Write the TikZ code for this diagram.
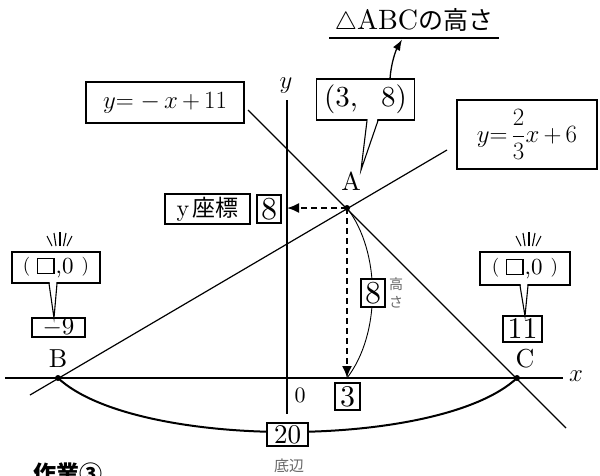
\documentclass[tikz,border=0pt]{standalone}
\usepackage{fontspec}
\usepackage{amsmath}
\setmainfont{lmroman10-regular}[Extension=.otf, BoldFont=lmroman10-bold, ItalicFont=lmroman10-italic]
\newfontfamily\jp{Noto Sans CJK JP}
\usetikzlibrary{arrows.meta,calc}
\newcommand\blankpar{{\fontsize{19}{19}\selectfont\raisebox{1.5pt}{(}}\hspace{0.3em}{\setlength\fboxsep{0pt}\setlength\fboxrule{1.2pt}\fbox{\rule{0pt}{14pt}\hspace{15pt}}}\hspace{1pt},0\hspace{0.35em}{\fontsize{19}{19}\selectfont\raisebox{1.5pt}{)}}}
\tikzset{
  fs/.style={font=\fontsize{#1}{#1}\selectfont},
  bx/.style={draw, line width=1.3pt, inner sep=0pt, fill=white},
  ln/.style={line width=1.2pt},
  axis/.style={line width=1.5pt},
  dasharr/.style={line width=1.8pt, dash pattern=on 6pt off 4pt, -{Latex[length=12pt,width=10pt]}},
  gr/.style={text=black!60},
  tailln/.style={line width=1.1pt},
  dot/.style={circle, fill=black, inner sep=0pt, minimum size=6pt},
  fanln/.style={line width=1.1pt},
}
\begin{document}
\begin{tikzpicture}[x=1pt,y=-1pt]
\useasboundingbox (0,0) rectangle (600,475);
% key points
\coordinate (O) at (287,378);
\coordinate (A) at (347,208);
\coordinate (B) at (58,378);
\coordinate (C) at (517,378);
\coordinate (yA) at (287,208);
\coordinate (xA) at (347,378);
\coordinate (L1s) at (248,110);
\coordinate (L1e) at (566,428);
\coordinate (L2s) at (30,395);
\coordinate (L2e) at (447,150);
\coordinate (xs) at (5,378);
\coordinate (xe) at (563,378);
\coordinate (ys) at (287,100);
\coordinate (ye) at (287,414);
% axes and lines
\draw[axis] (xs) -- (xe);
\draw[axis] (ys) -- (ye);
\draw[ln] (L1s) -- (L1e);
\draw[ln] (L2s) -- (L2e);
\node[fs=27] (xl) at (576,376) {$x$};
\node[fs=27] (yl) at (286,86) {$y$};
\node[fs=22] (ol) at (300,395) {0};
% bottom arc
\draw[line width=2pt] (B) .. controls (135,450) and (440,450) .. (C);
% height arc
\draw[line width=0.9pt] (A) .. controls (381,252) and (381,334) .. (xA);
% dashed arrows
\draw[dasharr] (A) -- (yA);
\draw[dasharr] (A) -- (xA);
% dots and labels
\node[dot] (Ad) at (A) {};
\node[dot] (Bd) at (B) {};
\node[dot] (Cd) at (C) {};
\node[fs=26] (Al) at (351,181) {A};
\node[fs=26] (Bl) at (58,359) {B};
\node[fs=26] (Cl) at (525,359) {C};
% equation boxes
\node[bx, minimum width=158pt, minimum height=41pt, fs=27] (eqA) at (165,102.5) {$y{=}\;{-}\,x\,{+}\,11$};
\node[bx, minimum width=140pt, minimum height=69pt, fs=27] (eqB) at (527,134.5) {$y{=}\,\dfrac{2}{3}x\,{+}\,6$};
% (3,8) callout
\node[bx, minimum width=98pt, minimum height=41pt, fs=29] (pt) at (365.5,99.5) {(3,\hspace{0.8em}8)};
\coordinate (ptT) at (361,170);
\fill[white] (367.6,119) -- (377.4,119) -- (ptT) -- cycle;
\draw[tailln] (367,120.6) -- (ptT) -- (378,120.6);
% title
\node[inner sep=0pt, anchor=base] (title) at (414,29) {\fontsize{28}{28}\selectfont$\triangle$ABC{\jp\fontsize{25}{25}\selectfont の高さ}};
\coordinate (ul1) at (329,38);
\coordinate (ul2) at (499,38);
\draw[line width=1.8pt] (ul1) -- (ul2);
\coordinate (arS) at (390,79);
\coordinate (arE) at (402,39.5);
\draw[line width=1.3pt, -{Latex[length=11pt,width=8pt]}] (arS) .. controls (391,63) and (396,50) .. (arE);
% y coordinate box
\node[bx, minimum width=85pt, minimum height=30pt, fs=24] (yz) at (207.5,209) {y\hspace{3pt}{\jp\fontsize{23}{23}\selectfont 座標}};
\node[bx, minimum width=24pt, minimum height=28pt, fs=32] (y8) at (269,209) {8};
% height box
\node[bx, minimum width=24pt, minimum height=28pt, fs=32] (h8) at (373,293) {8};
\node[gr, fs=14, inner sep=0pt] (hl1) at (396,284) {\jp 高};
\node[gr, fs=14, inner sep=0pt] (hl2) at (396,302.5) {\jp さ};
% x foot box
\node[bx, minimum width=25pt, minimum height=27pt, fs=30] (x3) at (347.5,396.5) {3};
% left callout
\node[bx, minimum width=88pt, minimum height=31pt, fs=23] (lb) at (56,267.5) {\blankpar};
\node[bx, minimum width=53pt, minimum height=19pt, fs=25] (lm9) at (58.5,327.5) {$-$9};
\coordinate (lT) at (54,318);
\fill[white] (49.6,281.5) -- (56.4,281.5) -- (lT) -- cycle;
\draw[tailln] (49,283.6) -- (lT) -- (57,283.6);
% right callout
\node[bx, minimum width=90pt, minimum height=33pt, fs=23] (rb) at (525,268.5) {\blankpar};
\node[bx, minimum width=39pt, minimum height=26pt, fs=30] (r11) at (522.5,329) {11};
\coordinate (rT) at (525,316);
\fill[white] (520.6,283.5) -- (527.4,283.5) -- (rT) -- cycle;
\draw[tailln] (520,285.6) -- (rT) -- (528,285.6);
% emphasis marks
\coordinate (fanL) at (59,246);
\coordinate (fanR) at (528,246);
\foreach \bx/\tx/\ty in {-7/-12/236,-3/-5/233,1/1/232,4.5/7/233,8/13/236}{
  \draw[fanln] ($(fanL)+(\bx,0)$) -- ($(fanL)+(\tx,\ty-246)$);
  \draw[fanln] ($(fanR)+(\bx,0)$) -- ($(fanR)+(\tx,\ty-246)$);
}
% base box
\node[bx, minimum width=41pt, minimum height=23pt, fs=27] (b20) at (287.5,434.5) {20};
\node[gr, fs=15] (btl) at (289,466) {\jp 底辺};
% task label
\node[fs=23, anchor=base west, inner sep=0pt] (task) at (33,482) {\jp\bfseries 作業③};
\end{tikzpicture}
\end{document}
